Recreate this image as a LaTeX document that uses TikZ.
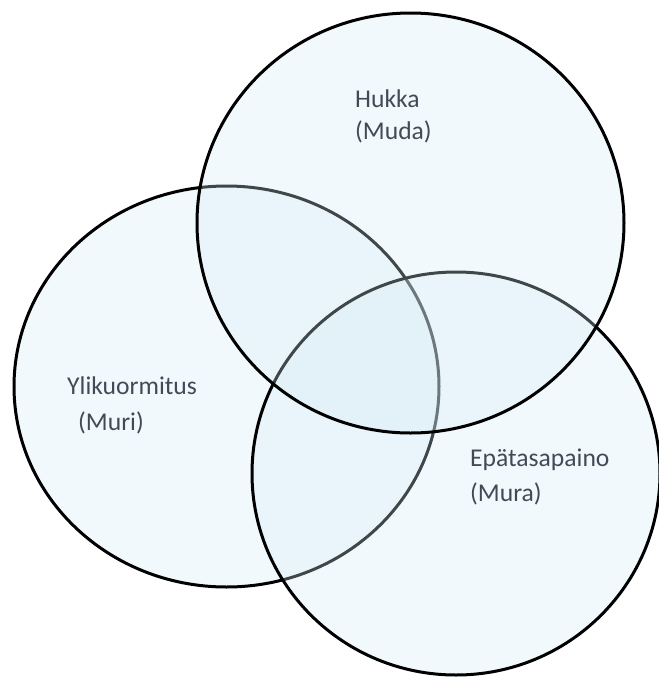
\documentclass[tikz,border=0pt]{standalone}
\usepackage{fontspec}
\setmainfont{Carlito}
\usetikzlibrary{shapes.geometric}
\definecolor{SetFill}{RGB}{212,236,245}
\definecolor{LabelColor}{RGB}{66,74,86}
\tikzset{
  set/.style={ellipse, draw=black, line width=3pt, fill=SetFill, fill opacity=0.3, draw opacity=1, inner sep=0pt},
  label text/.style={anchor=base west, text=LabelColor, inner sep=0pt, font=\fontsize{25.6}{31}\selectfont}
}

\begin{document}
\begin{tikzpicture}[x=1pt, y=-1pt]
  \useasboundingbox (0,0) rectangle (659,678);

  % Sets (drawn in order: left, right, top)
  \node[set, minimum width=425pt, minimum height=401pt] (muri) at (226.5,386.5) {};
  \node[set, minimum width=408pt, minimum height=403pt] (mura) at (456,473.5) {};
  \node[set, minimum width=427pt, minimum height=420pt] (muda) at (410.5,223) {};

  % Labels
  \node[label text] (hukka) at (355,107) {Hukka};
  \node[label text] (mudalbl) at (355,139) {(Muda)};
  \node[label text] (yli) at (67,394) {Ylikuormitus};
  \node[label text] (murilbl) at (78,430) {(Muri)};
  \node[label text] (epa) at (470,466) {Epätasapaino};
  \node[label text] (muralbl) at (470,501) {(Mura)};
\end{tikzpicture}
\end{document}
